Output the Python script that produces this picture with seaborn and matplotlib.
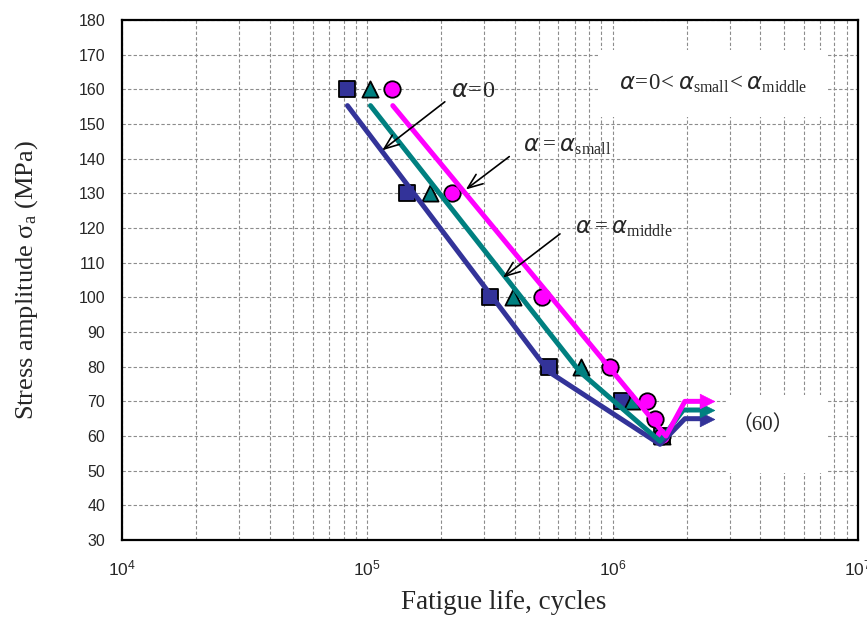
import numpy as np
import pandas as pd
import matplotlib
matplotlib.use("Agg")
import matplotlib.pyplot as plt
from matplotlib.patches import Rectangle
from matplotlib.ticker import FixedLocator, NullFormatter
import seaborn as sns

# ---------------- data ----------------
stress_levels = [160, 130, 100, 80, 70, 60]
life_alpha0 = [8.3e4, 1.45e5, 3.16e5, 5.5e5, 1.09e6, 1.59e6]
life_small = [1.03e5, 1.80e5, 3.93e5, 7.4e5, 1.20e6, 1.59e6]
circle_stress = [160, 130, 100, 80, 70, 65, 60]
life_middle = [1.26e5, 2.21e5, 5.15e5, 9.75e5, 1.38e6, 1.49e6, 1.59e6]

# fitted S-N lines (life, stress), ending in the run-out shaft
fit_alpha0_life = [8.3e4, 5.5e5, 1.56e6, 1.97e6, 2.32e6]
fit_alpha0_stress = [155.3, 78.5, 57.6, 65, 65]
fit_small_life = [1.03e5, 7.36e5, 1.56e6, 1.94e6, 2.32e6]
fit_small_stress = [155.3, 78.5, 58.5, 67.5, 67.5]
fit_middle_life = [1.27e5, 1.65e6, 1.97e6, 2.32e6]
fit_middle_stress = [155.3, 60, 70, 70]

# run-out arrow heads: life, stress
runout_head_life = [2.42e6, 2.42e6, 2.42e6]
runout_stress = [65, 67.5, 70]

series_names = ["alpha0", "small", "middle"]
colors = {"alpha0": "#333399", "small": "#008080", "middle": "#FF00FF"}
markers = {"alpha0": "s", "small": "^", "middle": "o"}

y_ticks = list(range(30, 181, 10))
x_ticks = [1e4, 1e5, 1e6, 1e7]
x_tick_labels = [r"$\mathsf{10^{4}}$", r"$\mathsf{10^{5}}$", r"$\mathsf{10^{6}}$", r"$\mathsf{10^{7}}$"]

# ---------------- style ----------------
sns.set_theme(style="white")
plt.rcParams["font.family"] = ["Liberation Sans", "DejaVu Sans"]
plt.rcParams["mathtext.fontset"] = "custom"
plt.rcParams["mathtext.rm"] = "Liberation Serif"
plt.rcParams["mathtext.it"] = "DejaVu Sans:italic"
plt.rcParams["mathtext.sf"] = "Liberation Sans"

fig = plt.figure(figsize=(8.67, 6.23), dpi=100)
ax = fig.add_axes([0.1407, 0.1332, 0.8489, 0.8347])

pts = pd.DataFrame({
    "life": life_alpha0 + life_small + life_middle,
    "stress": stress_levels + stress_levels + circle_stress,
    "series": ["alpha0"] * len(life_alpha0) + ["small"] * len(life_small) + ["middle"] * len(life_middle),
})
fits = pd.DataFrame({
    "life": fit_alpha0_life + fit_small_life + fit_middle_life,
    "stress": fit_alpha0_stress + fit_small_stress + fit_middle_stress,
    "series": ["alpha0"] * len(fit_alpha0_life) + ["small"] * len(fit_small_life) + ["middle"] * len(fit_middle_life),
})
heads = pd.DataFrame({"life": runout_head_life, "stress": runout_stress, "series": series_names})

sizes = {"alpha0": 125, "small": 135, "middle": 140}
for name in series_names:
    sub = pts[pts.series == name]
    sns.scatterplot(data=sub, x="life", y="stress", marker=markers[name], s=sizes[name],
                    color=colors[name], edgecolor="black", linewidth=1.3, ax=ax, zorder=3, legend=False)
for name in series_names:
    sub = fits[fits.series == name]
    sns.lineplot(data=sub, x="life", y="stress", sort=False, estimator=None,
                 color=colors[name], lw=3.6, ax=ax, zorder=4, legend=False)
    hs = heads[heads.series == name]
    sns.scatterplot(data=hs, x="life", y="stress", marker=">", s=110, color=colors[name],
                    edgecolor=colors[name], linewidth=0.5, ax=ax, zorder=4, legend=False)

ax.set_xscale("log")
ax.set_xlim(1e4, 1e7)
ax.set_ylim(30, 180)
ax.set_yticks(y_ticks)
ax.set_xticks(x_ticks)
ax.set_xticklabels(x_tick_labels)
ax.xaxis.set_minor_locator(FixedLocator([m * 10 ** k for k in range(4, 7) for m in range(2, 10)]))
ax.xaxis.set_minor_formatter(NullFormatter())
ax.tick_params(axis="both", which="both", length=0)
ax.tick_params(axis="y", pad=12, labelsize=11.5)
ax.tick_params(axis="x", pad=13, labelsize=12.5)
ax.set_axisbelow(True)
ax.grid(True, which="both", axis="x", color="#8c8c8c", linestyle=(0, (3, 2)), lw=0.8)
ax.grid(True, which="major", axis="y", color="#8c8c8c", linestyle=(0, (3, 2)), lw=0.8)
for sp in ax.spines.values():
    sp.set_color("black")
    sp.set_linewidth(1.6)

ax.set_xlabel("Fatigue life, cycles", family="Liberation Serif", fontsize=19.5)
ax.xaxis.set_label_coords(0.519, -0.097)
ax.set_ylabel(r"Stress amplitude $\mathrm{\sigma_a}$ (MPa)", family="Liberation Serif",
              fontsize=19, labelpad=28)

# white boxes hiding the grid behind notes
ax.add_patch(Rectangle((0.647, 0.813), 0.312, 0.129, transform=ax.transAxes,
                       facecolor="white", edgecolor="none", zorder=1))
ax.add_patch(Rectangle((0.823, 0.129), 0.136, 0.150, transform=ax.transAxes,
                       facecolor="white", edgecolor="none", zorder=1))

ax.text(0.803, 0.877, r"$\alpha\!=\!0\!<\alpha_{\mathrm{small}}\!<\alpha_{\mathrm{middle}}$",
        transform=ax.transAxes, ha="center", va="center", fontsize=16.5, zorder=5)
ax.text(0.871, 0.221, "（60）", transform=ax.transAxes, ha="center", va="center",
        fontsize=15, family=["Liberation Serif", "Noto Sans CJK JP"], zorder=5)

arrow_kw = dict(arrowstyle="->,head_length=0.9,head_width=0.35", color="black", lw=1.2,
                shrinkA=0, shrinkB=0)
ax.text(2.2e5, 159.5, r"$\alpha\!=\!0$", fontsize=17.5, ha="left", va="center", zorder=5)
ax.annotate("", xy=(1.15e5, 142.4), xytext=(2.07e5, 156.4), arrowprops=arrow_kw, zorder=5)
ax.text(4.3e5, 143.8, r"$\alpha = \alpha_{\mathrm{small}}$", fontsize=16.5,
        ha="left", va="center", zorder=5)
ax.annotate("", xy=(2.52e5, 131.1), xytext=(3.79e5, 140.6), arrowprops=arrow_kw, zorder=5)
ax.text(7.0e5, 120.1, r"$\alpha = \alpha_{\mathrm{middle}}$", fontsize=16.5,
        ha="left", va="center", zorder=5)
ax.annotate("", xy=(3.57e5, 105.7), xytext=(6.1e5, 118.3), arrowprops=arrow_kw, zorder=5)

fig.savefig("out.png", dpi=100)
